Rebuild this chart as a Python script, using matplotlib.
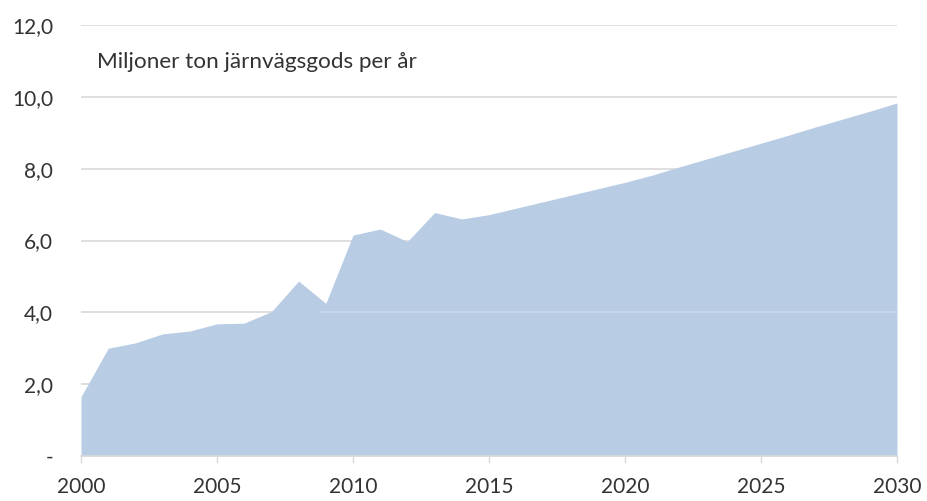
import matplotlib
matplotlib.use("Agg")
import matplotlib.pyplot as plt
from matplotlib.ticker import FuncFormatter

# Miljoner ton järnvägsgods per år, utfall + prognos
years = list(range(2000, 2031))
tonnes = [1.65, 3.0, 3.15, 3.4, 3.48, 3.68, 3.7, 4.02, 4.87, 4.25,
          6.15, 6.32, 5.97, 6.78, 6.6, 6.72, 6.9, 7.08, 7.26, 7.44,
          7.62, 7.82, 8.05, 8.27, 8.49, 8.71, 8.93, 9.16, 9.38, 9.6, 9.83]

y_ticks = [0, 2, 4, 6, 8, 10, 12]
x_ticks = [2000, 2005, 2010, 2015, 2020, 2025, 2030]
label = "Miljoner ton järnvägsgods per år"

FILL = "#b8cce4"
GRID = "#d9d9d9"
TXT = "#333333"

plt.rcParams["font.family"] = ["Lato", "DejaVu Sans"]

fig = plt.figure(figsize=(9.28, 5.01), dpi=100)
ax = fig.add_axes([0.0873, 0.0898, 0.8793, 0.8603])

ax.fill_between(years, tonnes, 0, color=FILL, lw=0, zorder=2)
for y in y_ticks[1:]:
    ax.axhline(y, color=GRID, lw=1.2, zorder=1)
# faint gridline showing through the area (as in the original)
ax.hlines(4, 2008.8, 2030, color="#c9d8eb", lw=1.2, zorder=3)

ax.set_xlim(2000, 2030)
ax.set_ylim(0, 12)
ax.set_xticks(x_ticks)
ax.set_yticks(y_ticks)
ax.yaxis.set_major_formatter(FuncFormatter(
    lambda v, p: "-" if v == 0 else f"{v:.1f}".replace(".", ",")))

for s in ("top", "right", "left"):
    ax.spines[s].set_visible(False)
ax.spines["bottom"].set_color(GRID)
ax.spines["bottom"].set_linewidth(1.2)
ax.spines["bottom"].set_zorder(4)

ax.tick_params(axis="y", length=0, pad=20, labelsize=15, labelcolor=TXT)
ax.tick_params(axis="x", length=5, width=1, color=GRID, pad=10,
               labelsize=15, labelcolor=TXT)

ax.text(2000.6, 10.97, label, fontsize=16.2, color=TXT, va="center", ha="left")

fig.savefig("out.png", dpi=100)
